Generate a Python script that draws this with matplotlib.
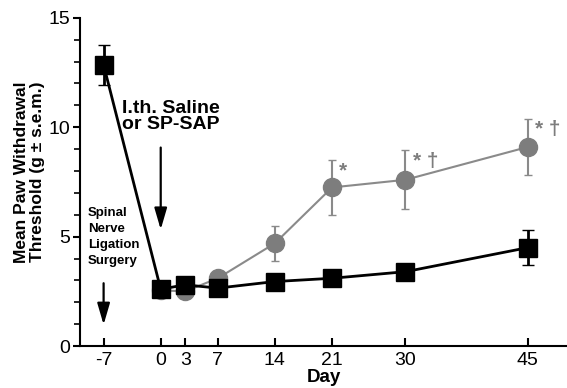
import matplotlib.pyplot as plt
from matplotlib.ticker import MultipleLocator

plt.rcParams['font.family'] = ['Liberation Sans', 'DejaVu Sans']
plt.rcParams['axes.unicode_minus'] = False

days = [-7, 0, 3, 7, 14, 21, 30, 45]

# saline (squares)
sal_days = [-7, 0, 3, 7, 14, 21, 30, 45]
sal_mean = [12.85, 2.6, 2.8, 2.65, 2.95, 3.1, 3.4, 4.5]
sal_err = [0.9, 0, 0, 0, 0, 0, 0, 0.8]

# SP-SAP (circles)
sap_days = [0, 3, 7, 14, 21, 30, 45]
sap_mean = [2.55, 2.5, 3.1, 4.7, 7.25, 7.6, 9.1]
sap_err = [0, 0, 0, 0.8, 1.25, 1.35, 1.3]

sig_days = [21, 30, 45]
sig_marks = ['*', '* \u2020', '* \u2020']

fig = plt.figure(figsize=(5.67, 3.88), dpi=100)
ax = fig.add_axes([0.141, 0.108, 0.859, 0.846])

gray = '#7d7d7d'
ax.errorbar(sap_days, sap_mean, yerr=sap_err, color='#8a8a8a', lw=1.5,
            marker='o', ms=13, mfc=gray, mec=gray, ecolor='#8a8a8a',
            elinewidth=1.5, capsize=3, zorder=2)
ax.errorbar(sal_days, sal_mean, yerr=sal_err, color='black', lw=2,
            marker='s', ms=13.5, mfc='black', mec='black', ecolor='black',
            elinewidth=2, capsize=4, zorder=3)

for d, m in zip(sig_days, sig_marks):
    i = sap_days.index(d)
    ax.text(d + 0.9, sap_mean[i] + sap_err[i] - 0.5, m, color=gray,
            fontsize=15, fontweight='bold', ha='left', va='center')

ax.text(-4.8, 11.25, 'I.th. Saline\nor SP-SAP', fontsize=14, fontweight='bold',
        ha='left', va='top', linespacing=0.95)
arrow = dict(arrowstyle='-|>,head_length=1.3,head_width=0.38', color='black',
             lw=1.6, mutation_scale=10)
ax.annotate('', xy=(0, 5.2), xytext=(0, 9.2), arrowprops=arrow)
ax.text(-8.95, 6.35, 'Spinal\nNerve\nLigation\nSurgery', fontsize=9.5,
        fontweight='bold', ha='left', va='top', linespacing=1.45)
ax.annotate('', xy=(-7, 0.85), xytext=(-7, 3.0), arrowprops=arrow)

ax.set_xlim(-9.9, 49.8)
ax.set_ylim(0, 15)
ax.set_xticks(days)
ax.set_yticks([0, 5, 10, 15])
ax.yaxis.set_minor_locator(MultipleLocator(1))
ax.tick_params(axis='x', direction='in', length=6, width=1.5, labelsize=14, pad=4)
ax.tick_params(axis='y', which='major', direction='out', length=5, width=1.5,
               labelsize=14, pad=2)
ax.tick_params(axis='y', which='minor', direction='out', length=4, width=1.2)
ax.spines['top'].set_visible(False)
ax.spines['right'].set_visible(False)
ax.spines['left'].set_linewidth(1.5)
ax.spines['bottom'].set_linewidth(1.5)
ax.set_xlabel('Day', fontsize=13.5, fontweight='bold', labelpad=0)
ax.set_ylabel('Mean Paw Withdrawal\nThreshold (g \u00b1 s.e.m.)', fontsize=12.5,
              fontweight='bold', linespacing=1.05)
ax.yaxis.set_label_coords(-0.072, 0.53)

fig.savefig('out.png', dpi=100)
